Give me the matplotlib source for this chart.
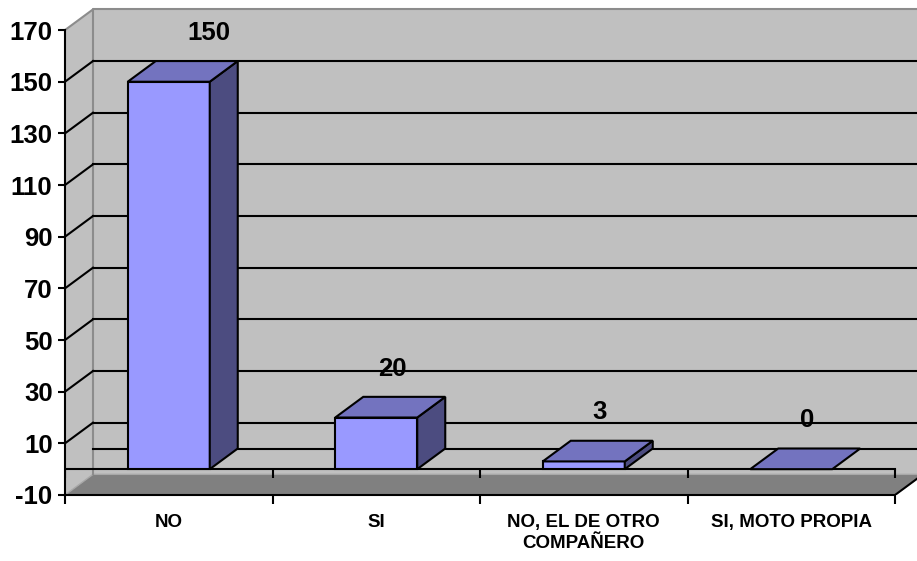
import matplotlib.pyplot as plt
from matplotlib.patches import Polygon

plt.rcParams['font.family'] = ['Liberation Sans', 'DejaVu Sans']
plt.rcParams['font.weight'] = 'bold'

# datos
categorias = ["NO", "SI", "NO, EL DE OTRO\nCOMPAÑERO", "SI, MOTO PROPIA"]
valores = [150, 20, 3, 0]
ticks_y = [-10, 10, 30, 50, 70, 90, 110, 130, 150, 170]

FRENTE = "#9999FF"
TAPA = "#7373BF"
LADO = "#4C4C80"
PARED = "#C0C0C0"
PISO = "#808080"

W, H = 917, 561
fig = plt.figure(figsize=(W / 100, H / 100), dpi=100)
ax = fig.add_axes([65 / W, 66 / H, 852 / W, 495 / H])
ax.patch.set_visible(False)

px_x = 207.5   # pixeles por categoria
px_y = 2.583   # pixeles por unidad
ax.set_xlim(0, 852 / px_x)
ax.set_ylim(-10, -10 + 495 / px_y)

n = len(categorias)
ymin, ymax = ticks_y[0], ticks_y[-1]
DX = 28 / px_x    # profundidad 3D
DY = 8.0
xr = ax.get_xlim()[1] + 1

# paredes y piso
ax.add_patch(Polygon([(DX, ymin + DY), (xr, ymin + DY), (xr, ymax + DY), (DX, ymax + DY)],
                     closed=True, facecolor=PARED, edgecolor='none', zorder=0))
ax.add_patch(Polygon([(0, ymin), (DX, ymin + DY), (DX, ymax + DY), (0, ymax)],
                     closed=True, facecolor=PARED, edgecolor='none', zorder=0))
ax.add_patch(Polygon([(0, ymin), (n, ymin), (n + DX, ymin + DY), (DX, ymin + DY)],
                     closed=True, facecolor=PISO, edgecolor='#A8A8A8', lw=1, zorder=0.5))
ax.plot([n, n + DX], [ymin, ymin + DY], color='black', lw=1.5, zorder=0.6)
ax.plot([DX, DX, xr], [ymin + DY, ymax + DY, ymax + DY], color='#8C8C8C', lw=1.5, zorder=0.6)
ax.plot([0, DX], [ymax, ymax + DY], color='#8C8C8C', lw=1.5, zorder=0.6)

# lineas de division
for v in ticks_y[1:-1]:
    ax.plot([DX, xr], [v + DY, v + DY], color='black', lw=1.5, zorder=1)
    ax.plot([0, DX], [v, v + DY], color='black', lw=1.5, zorder=1)
ax.plot([DX, xr], [DY, DY], color='black', lw=1.5, zorder=1)

# linea del cero al frente
ax.plot([0, n], [0, 0], color='black', lw=1.5, zorder=1.5)
ax.vlines(range(n + 1), 0, -9 / px_y, color='black', lw=1.5, zorder=1.5)

# barras 3D
hw = 41 / px_x
for i, v in enumerate(valores):
    c = i + 0.5
    x0, x1 = c - hw, c + hw
    kw = dict(closed=True, edgecolor='black', lw=1.5, joinstyle='miter', zorder=3)
    if v > 0:
        ax.add_patch(Polygon([(x0, 0), (x1, 0), (x1, v), (x0, v)], facecolor=FRENTE, **kw))
        ax.add_patch(Polygon([(x1, 0), (x1 + DX, DY), (x1 + DX, v + DY), (x1, v)],
                             facecolor=LADO, **kw))
    ax.add_patch(Polygon([(x0, v), (x1, v), (x1 + DX, v + DY), (x0 + DX, v + DY)],
                         facecolor=TAPA, **kw))
    # Excel corre la etiqueta de la barra alta un poco mas a la derecha
    dx_lbl = 40 if v == max(valores) else 16
    ax.text(c + dx_lbl / px_x, v + 49 / px_y, str(v), ha='center', va='center',
            fontsize=18.5, fontweight='bold', zorder=4)

# ejes
for s in ['top', 'right']:
    ax.spines[s].set_visible(False)
ax.spines['left'].set_bounds(ymin, ymax)
ax.spines['bottom'].set_bounds(0, n)
ax.spines['left'].set_linewidth(1.5)
ax.spines['bottom'].set_linewidth(1.5)
ax.spines['left'].set_zorder(5)
ax.spines['bottom'].set_zorder(5)

ax.set_yticks(ticks_y)
ax.set_yticklabels([str(t) for t in ticks_y], fontsize=18.5, fontweight='bold')
ax.tick_params(axis='y', length=5, width=1.5, pad=4)

ax.set_xticks(range(n + 1))
ax.set_xticklabels([])
ax.set_xticks([i + 0.5 for i in range(n)], minor=True)
ax.set_xticklabels(categorias, minor=True, fontsize=13.5, fontweight='bold', linespacing=1.3,
                   va='top')
ax.tick_params(axis='x', which='major', length=6.5, width=1.5)
ax.tick_params(axis='x', which='minor', length=0, pad=14)

fig.savefig('out.png', dpi=100, facecolor='white')
